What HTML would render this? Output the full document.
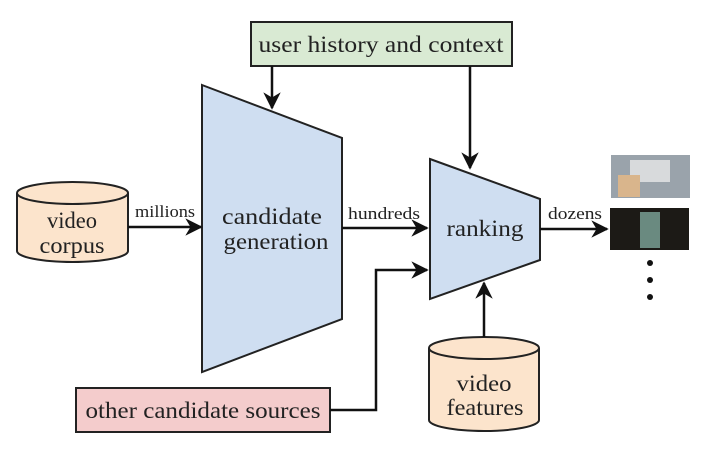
<!DOCTYPE html>
<html><head><style>body{margin:0;background:#fff}</style></head><body>
<svg width="728" height="463" viewBox="0 0 728 463" xmlns="http://www.w3.org/2000/svg" font-family="Liberation Serif, serif" fill="#222">
<defs><marker id="a" viewBox="0 0 10 10" refX="9" refY="5" markerWidth="7" markerHeight="7" orient="auto-start-reverse"><path d="M0,0 L10,5 L0,10 L3,5 z" fill="#111"/></marker></defs>
<g stroke="#222" stroke-width="2">
<rect x="251" y="22" width="261" height="44" fill="#d9ead3"/>
<polygon points="202,85 342,138 342,319 202,372" fill="#cfdef1"/>
<polygon points="430,159 540,199 540,260 430,299" fill="#cfdef1"/>
<rect x="76" y="388" width="254" height="44" fill="#f4cccc"/>
<path d="M17,193 v58 a55.5,11 0 0 0 111,0 v-58" fill="#fce4cc"/>
<ellipse cx="72.5" cy="193" rx="55.5" ry="11" fill="#fce4cc"/>
<path d="M429,348 v72 a55,11 0 0 0 110,0 v-72" fill="#fce4cc"/>
<ellipse cx="484" cy="348" rx="55" ry="11" fill="#fce4cc"/>
</g>
<g stroke="#111" stroke-width="2.5" fill="none" marker-end="url(#a)">
<path d="M272,66 V108"/>
<path d="M470,66 V168"/>
<path d="M128,227 H201"/>
<path d="M342,228 H427"/>
<path d="M540,229 H607"/>
<path d="M330,410 H376 V270 H427"/>
<path d="M484,337 V283"/>
</g>
<rect x="611" y="155" width="79" height="43" fill="#9aa3ab"/>
<rect x="630" y="160" width="40" height="22" fill="#d8dadc"/>
<rect x="618" y="175" width="22" height="22" fill="#d9b58c"/>
<rect x="610" y="208" width="79" height="42" fill="#1c1a16"/>
<rect x="640" y="212" width="20" height="36" fill="#6a8a80"/>
<circle cx="650" cy="263" r="3" fill="#111"/><circle cx="650" cy="280" r="3" fill="#111"/><circle cx="650" cy="297" r="3" fill="#111"/>
<g font-size="23" text-anchor="middle">
<text x="381" y="52" textLength="245" lengthAdjust="spacingAndGlyphs">user history and context</text>
<text x="272" y="224" textLength="100" lengthAdjust="spacingAndGlyphs">candidate</text>
<text x="276" y="249" textLength="105" lengthAdjust="spacingAndGlyphs">generation</text>
<text x="485" y="236" textLength="77" lengthAdjust="spacingAndGlyphs">ranking</text>
<text x="72" y="228" textLength="50" lengthAdjust="spacingAndGlyphs">video</text>
<text x="72" y="253" textLength="65" lengthAdjust="spacingAndGlyphs">corpus</text>
<text x="484" y="391" textLength="55" lengthAdjust="spacingAndGlyphs">video</text>
<text x="485" y="415" textLength="77" lengthAdjust="spacingAndGlyphs">features</text>
<text x="203" y="418" textLength="235" lengthAdjust="spacingAndGlyphs">other candidate sources</text>
</g>
<g font-size="17" text-anchor="middle">
<text x="165" y="217" textLength="60" lengthAdjust="spacingAndGlyphs">millions</text>
<text x="384" y="219" textLength="72" lengthAdjust="spacingAndGlyphs">hundreds</text>
<text x="575" y="219" textLength="54" lengthAdjust="spacingAndGlyphs">dozens</text>
</g>
</svg>
</body></html>
